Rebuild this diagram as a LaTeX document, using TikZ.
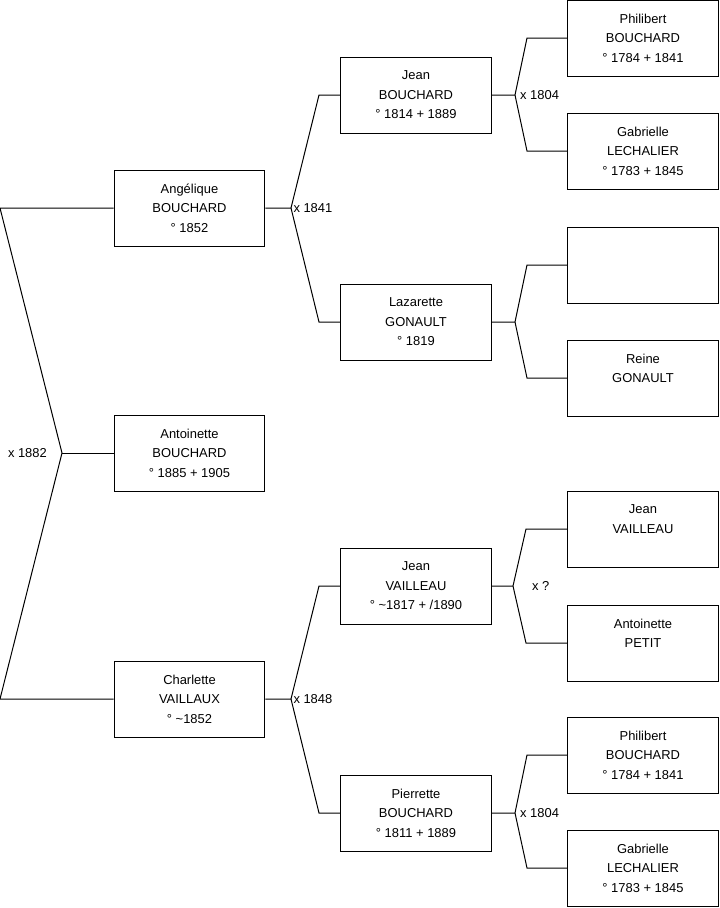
\documentclass[tikz,border=0pt]{standalone}
\usepackage{fontspec}
\setmainfont{Liberation Sans}
\usetikzlibrary{positioning}

\begin{document}
\begin{tikzpicture}[x=0.75pt, y=-0.75pt, line width=0.75pt,
    person/.style={draw, minimum width=113pt, minimum height=57pt, align=center,
      inner sep=0pt, font=\fontsize{9.7}{14.6}\selectfont},
    union/.style={inner sep=0pt, font=\fontsize{9.7}{12}\selectfont}]
  \useasboundingbox (0,0) rectangle (719,908);
  % children
  \node[person] (angelique) at (189.5,208) {Angélique\\BOUCHARD\\° 1852};
  \node[person] (antoinetteB) at (189.5,453) {Antoinette\\BOUCHARD\\° 1885 + 1905};
  \node[person] (charlette) at (189.5,699) {Charlette\\VAILLAUX\\° \textasciitilde1852};
  % parents
  \node[person] (jeanB) at (416,95) {Jean\\BOUCHARD\\° 1814 + 1889};
  \node[person] (lazarette) at (416,322) {Lazarette\\GONAULT\\° 1819};
  \node[person] (jeanV) at (416,586) {Jean\\VAILLEAU\\° \textasciitilde1817 + /1890};
  \node[person] (pierrette) at (416,813) {Pierrette\\BOUCHARD\\° 1811 + 1889};
  % grandparents
  \node[person] (philibertA) at (643,38) {Philibert\\BOUCHARD\\° 1784 + 1841};
  \node[person] (gabrielleA) at (643,151) {Gabrielle\\LECHALIER\\° 1783 + 1845};
  \node[person] (unknown) at (643,265) {};
  \node[person] (reine) at (643,378) {Reine\\GONAULT\\\mbox{}};
  \node[person] (jeanVV) at (643,529) {Jean\\VAILLEAU\\\mbox{}};
  \node[person] (antoinetteP) at (643,643) {Antoinette\\PETIT\\\mbox{}};
  \node[person] (philibertB) at (643,755) {Philibert\\BOUCHARD\\° 1784 + 1841};
  \node[person] (gabrielleB) at (643,868) {Gabrielle\\LECHALIER\\° 1783 + 1845};

  % left fork
  \coordinate (root) at (62,453);
  \draw (angelique.west) -- (0,0 |- angelique.west) -- (root) -- (0,0 |- charlette.west) -- (charlette.west);
  \draw (root) -- (antoinetteB.west);
  \node[union, anchor=east] (u0) at ([xshift=-11]root) {x 1882};

  % forks to the parents
  \foreach \p/\ch/\chh/\ax/\kx in {angelique/jeanB/lazarette/291/319,
      charlette/jeanV/pierrette/291/319,
      jeanB/philibertA/gabrielleA/515/527,
      lazarette/unknown/reine/515/527,
      jeanV/jeanVV/antoinetteP/513/526,
      pierrette/philibertB/gabrielleB/515/527} {
    \draw (\p.east) -- (\ax,0 |- \p.east) coordinate (a\p) -- (\kx,0 |- \ch.west) -- (\ch.west);
    \draw (a\p) -- (\kx,0 |- \chh.west) -- (\chh.west);
  }
  \node[union, anchor=west] (u1) at ([xshift=1.5]aangelique) {x 1841};
  \node[union, anchor=west] (u2) at ([xshift=3.5]ajeanB) {x 1804};
  \node[union, anchor=west] (u3) at ([xshift=1.5]acharlette) {x 1848};
  \node[union, anchor=west] (u4) at ([xshift=14]ajeanV) {x ?};
  \node[union, anchor=west] (u5) at ([xshift=3.5]apierrette) {x 1804};
\end{tikzpicture}
\end{document}
